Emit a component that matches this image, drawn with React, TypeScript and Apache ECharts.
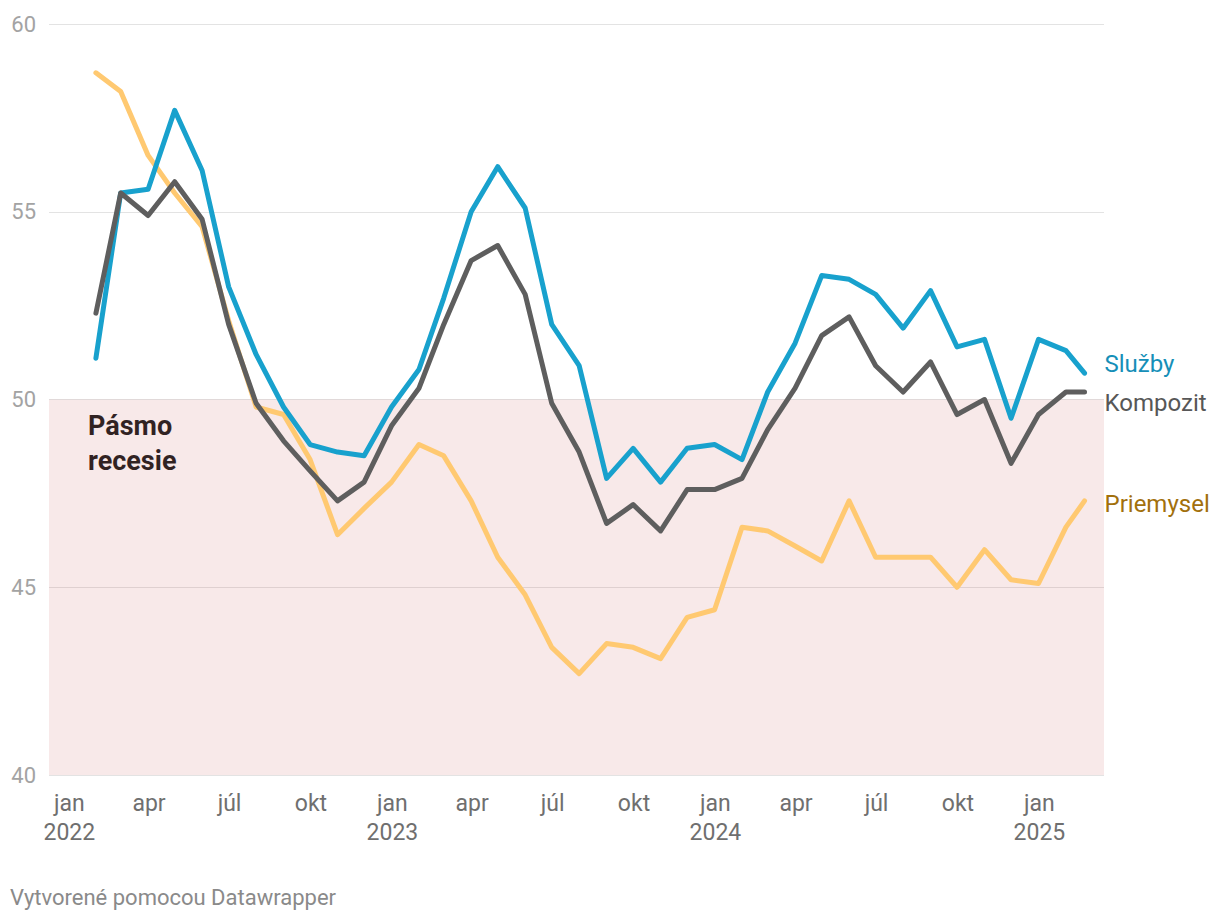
import React, { useEffect, useRef } from "react";
import * as echarts from "echarts";

const dates = [
  "2022-01-31", "2022-02-28", "2022-03-31", "2022-04-30", "2022-05-31", "2022-06-30",
  "2022-07-31", "2022-08-31", "2022-09-30", "2022-10-31", "2022-11-30", "2022-12-31",
  "2023-01-31", "2023-02-28", "2023-03-31", "2023-04-30", "2023-05-31", "2023-06-30",
  "2023-07-31", "2023-08-31", "2023-09-30", "2023-10-31", "2023-11-30", "2023-12-31",
  "2024-01-31", "2024-02-29", "2024-03-31", "2024-04-30", "2024-05-31", "2024-06-30",
  "2024-07-31", "2024-08-31", "2024-09-30", "2024-10-31", "2024-11-30", "2024-12-31",
  "2025-01-31", "2025-02-21",
];

const sluzby = [
  51.1, 55.5, 55.6, 57.7, 56.1, 53.0, 51.2, 49.8, 48.8, 48.6, 48.5, 49.8,
  50.8, 52.7, 55.0, 56.2, 55.1, 52.0, 50.9, 47.9, 48.7, 47.8, 48.7, 48.8,
  48.4, 50.2, 51.5, 53.3, 53.2, 52.8, 51.9, 52.9, 51.4, 51.6, 49.5, 51.6,
  51.3, 50.7,
];

const kompozit = [
  52.3, 55.5, 54.9, 55.8, 54.8, 52.0, 49.9, 48.9, 48.1, 47.3, 47.8, 49.3,
  50.3, 52.0, 53.7, 54.1, 52.8, 49.9, 48.6, 46.7, 47.2, 46.5, 47.6, 47.6,
  47.9, 49.2, 50.3, 51.7, 52.2, 50.9, 50.2, 51.0, 49.6, 50.0, 48.3, 49.6,
  50.2, 50.2,
];

const priemysel = [
  58.7, 58.2, 56.5, 55.5, 54.6, 52.1, 49.8, 49.6, 48.4, 46.4, 47.1, 47.8,
  48.8, 48.5, 47.3, 45.8, 44.8, 43.4, 42.7, 43.5, 43.4, 43.1, 44.2, 44.4,
  46.6, 46.5, 46.1, 45.7, 47.3, 45.8, 45.8, 45.8, 45.0, 46.0, 45.2, 45.1,
  46.6, 47.3,
];

const tickDates = [
  "2022-01-01", "2022-04-01", "2022-07-01", "2022-10-01",
  "2023-01-01", "2023-04-01", "2023-07-01", "2023-10-01",
  "2024-01-01", "2024-04-01", "2024-07-01", "2024-10-01",
  "2025-01-01",
];
const tickLabels = [
  "jan\n2022", "apr", "júl", "okt",
  "jan\n2023", "apr", "júl", "okt",
  "jan\n2024", "apr", "júl", "okt",
  "jan\n2025",
];

const yTicks = [40, 45, 50, 55, 60];
const recessionBand = [40, 50];

const ts = (d: string) => new Date(d + "T00:00:00Z").getTime();

export default function App() {
  const ref = useRef<HTMLDivElement>(null);

  useEffect(() => {
    document.body.style.margin = "0";
    if (!ref.current) return;
    const chart = echarts.init(ref.current, null, { renderer: "svg" });
    const tickTs = tickDates.map(ts);
    const labelMap = new Map<number, string>();
    tickTs.forEach((t, i) => labelMap.set(t, tickLabels[i]));

    const mk = (vals: number[]) => dates.map((d, i) => [ts(d), vals[i]]);
    const font = "Roboto, 'Noto Sans', sans-serif";

    const lineSeries = (
      name: string,
      vals: number[],
      color: string,
      labelColor: string,
      dy: number,
      extra: any = {}
    ) => ({
      name,
      type: "line",
      data: mk(vals),
      showSymbol: false,
      symbol: "none",
      lineStyle: { color, width: 5, join: "round", cap: "round" },
      itemStyle: { color },
      emphasis: { disabled: true },
      endLabel: {
        show: true,
        formatter: name,
        color: labelColor,
        fontSize: 24,
        fontFamily: font,
        distance: 20,
        offset: [0, dy],
      },
      ...extra,
    });

    chart.setOption({
      animation: false,
      backgroundColor: "#ffffff",
      textStyle: { fontFamily: font },
      grid: { left: 49, right: 116, top: 24, bottom: 922 - 775 },
      xAxis: {
        type: "value",
        min: ts("2021-12-09"),
        max: ts("2025-03-15"),
        axisLine: { show: false },
        axisTick: { show: false },
        splitLine: { show: false },
        axisLabel: {
          customValues: tickTs,
          formatter: (v: number) => labelMap.get(v) ?? "",
          color: "#6f6f6f",
          fontSize: 23,
          lineHeight: 29,
          margin: 14,
          fontFamily: font,
          hideOverlap: false,
          showMinLabel: true,
          showMaxLabel: true,
        },
      },
      yAxis: {
        type: "value",
        min: yTicks[0],
        max: yTicks[yTicks.length - 1],
        interval: 5,
        axisLine: { show: false },
        axisTick: { show: false },
        axisLabel: {
          color: "#a3a3a3",
          fontSize: 22,
          margin: 13,
          fontFamily: font,
        },
        splitLine: { show: true, lineStyle: { color: "#e3e3e3", width: 1.2 } },
      },
      series: [
        lineSeries("Priemysel", priemysel, "#ffc971", "#a2700c", 3, {
          markArea: {
            silent: true,
            itemStyle: { color: "rgba(200,70,70,0.12)" },
            data: [[{ yAxis: recessionBand[0] }, { yAxis: recessionBand[1] }]],
          },
        }),
        lineSeries("Služby", sluzby, "#18a1cd", "#168fb8", -9),
        lineSeries("Kompozit", kompozit, "#5e5e5e", "#575757", 11),
      ],
      graphic: [
        {
          type: "text",
          left: 88,
          top: 408,
          style: {
            text: "Pásmo\nrecesie",
            fontSize: 27,
            fontWeight: "bold",
            lineHeight: 35,
            fill: "#1d1d1d",
            fontFamily: font,
          },
        },
        {
          type: "text",
          left: 10,
          top: 886,
          style: {
            text: "Vytvorené pomocou Datawrapper",
            fontSize: 22,
            fill: "#8a8a8a",
            fontFamily: font,
          },
        },
      ],
    });

    return () => chart.dispose();
  }, []);

  return <div ref={ref} style={{ width: 1220, height: 922 }} />;
}
